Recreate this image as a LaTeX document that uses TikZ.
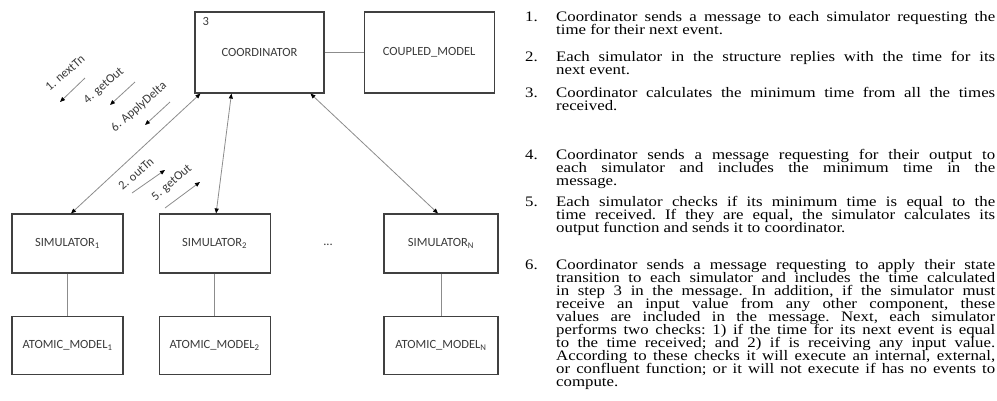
\documentclass[tikz,border=0pt]{standalone}
\usepackage{fontspec}
\setmainfont{Carlito}
\newfontfamily\listfont[FakeStretch=1.16]{Liberation Serif}
\newcommand\listsetup{\listfont\fontsize{14.5}{13}\selectfont\frenchspacing\lineskiplimit=-10pt\relax}
\usepackage{tikz}
\usetikzlibrary{positioning}
\usetikzlibrary{calc}
\usetikzlibrary{arrows.meta}
\definecolor{boxgray}{HTML}{404040}
\definecolor{linegray}{HTML}{8C8C8C}
\definecolor{textgray}{HTML}{3A3A3A}

\begin{document}
\begin{tikzpicture}[
    x=1pt, y=-1pt,
    block/.style={
        draw=boxgray, line width=1.1pt, text=textgray,
        font=\fontsize{12.5}{14}\selectfont, inner sep=0pt
    },
    link/.style={draw=linegray, line width=0.8pt},
    msg arrow/.style={
        draw=linegray, line width=0.8pt,
        {Triangle[length=5pt,width=4pt,black]}-{Triangle[length=5pt,width=4pt,black]}
    },
    step arrow/.style={
        draw=linegray, line width=0.8pt,
        -{Triangle[length=5pt,width=4pt,black]}
    },
    msg label/.style={text=textgray, font=\fontsize{12.5}{14}\selectfont, rotate=41, inner sep=0pt},
    num/.style={anchor=base west, inner sep=0pt, font=\listsetup},
    item/.style={
        anchor=base west, inner sep=0pt, text width=439pt, align=justify,
        font=\listsetup
    }
  ]
  \useasboundingbox (0,0) rectangle (997,400);

  % coordinator and the coupled model
  \node[block, minimum width=129pt, minimum height=81pt] (coord) at (259.5,52.5) {COORDINATOR};
  \node[text=textgray, font=\fontsize{12.5}{14}\selectfont, inner sep=0pt, anchor=north west] (coord_num) at ([shift={(8pt,-6pt)}]coord.north west) {3};
  \node[block, minimum width=130pt, minimum height=81pt, right=39pt of coord] (coupled) {COUPLED\_MODEL};

  % simulators
  \node[block, minimum width=111pt, minimum height=59pt] (sim_1) at (67.5,243.5) {SIMULATOR\textsubscript{1}};
  \node[block, minimum width=111pt, minimum height=59pt, right=35pt of sim_1] (sim_2) {SIMULATOR\textsubscript{2}};
  \node[block, minimum width=114pt, minimum height=59pt] (sim_n) at (441,243.5) {SIMULATOR\textsubscript{N}};
  \node[text=textgray, font=\fontsize{12.5}{14}\selectfont] (dots) at (328,245) {...};

  % atomic models
  \node[block, minimum width=111pt, minimum height=58pt, below=42pt of sim_1] (atom_1) {ATOMIC\_MODEL\textsubscript{1}};
  \node[block, minimum width=111pt, minimum height=58pt, below=42pt of sim_2] (atom_2) {ATOMIC\_MODEL\textsubscript{2}};
  \node[block, minimum width=114pt, minimum height=58pt, below=42pt of sim_n] (atom_n) {ATOMIC\_MODEL\textsubscript{N}};

  \draw[link] (coord) -- (coupled);
  \draw[link] (sim_1) -- (atom_1);
  \draw[link] (sim_2) -- (atom_2);
  \draw[link] (sim_n) -- (atom_n);

  \draw[msg arrow] ([xshift=6pt]coord.south west) -- ([xshift=3.5pt]sim_1.north);
  \draw[msg arrow] ([xshift=37pt]coord.south west) -- ([xshift=1.5pt]sim_2.north);
  \draw[msg arrow] ([xshift=116pt]coord.south west) -- ([xshift=-3pt]sim_n.north);

  % messages down
  \coordinate (down_1_s) at (85,78);
  \coordinate (down_1_e) at (60,102);
  \coordinate (down_4_s) at (135,82);
  \coordinate (down_4_e) at (110,105);
  \coordinate (down_6_s) at (170,102);
  \coordinate (down_6_e) at (145,125);
  \draw[step arrow] (down_1_s) -- (down_1_e);
  \draw[step arrow] (down_4_s) -- (down_4_e);
  \draw[step arrow] (down_6_s) -- (down_6_e);
  \node[msg label] (lab_1) at (65,73) {1. nextTn};
  \node[msg label] (lab_4) at (104,86) {4. getOut};
  \node[msg label] (lab_6) at (139,107) {6. ApplyDelta};

  % messages up
  \coordinate (up_2_s) at (132,193);
  \coordinate (up_2_e) at (165,170);
  \coordinate (up_5_s) at (165,208);
  \coordinate (up_5_e) at (200,182);
  \draw[step arrow] (up_2_s) -- (up_2_e);
  \draw[step arrow] (up_5_s) -- (up_5_e);
  \node[msg label] (lab_2) at (136,174) {2. outTn};
  \node[msg label] (lab_5) at (172,183) {5. getOut};

  % steps
  \node[num] (n_1) at (525,21) {1.};
  \node[item] (item_1) at (556,21) {Coordinator sends a message to each simulator requesting the\linebreak time for their next event.};
  \node[num] (n_2) at (525,61) {2.};
  \node[item] (item_2) at (556,61) {Each simulator in the structure replies with the time for its\linebreak next event.};
  \node[num] (n_3) at (525,97) {3.};
  \node[item] (item_3) at (556,97) {Coordinator calculates the minimum time from all the times\linebreak received.};
  \node[num] (n_4) at (525,159) {4.};
  \node[item] (item_4) at (556,159) {Coordinator sends a message requesting for their output to\linebreak each simulator and includes the minimum time in the\linebreak message.};
  \node[num] (n_5) at (525,206) {5.};
  \node[item] (item_5) at (556,206) {Each simulator checks if its minimum time is equal to the\linebreak time received. If they are equal, the simulator calculates its\linebreak output function and sends it to coordinator.};
  \node[num] (n_6) at (525,269) {6.};
  \node[item] (item_6) at (556,269) {Coordinator sends a message requesting to apply their state\linebreak transition to each simulator and includes the time calculated\linebreak in step 3 in the message. In addition, if the simulator must\linebreak receive an input value from any other component, these\linebreak values are included in the message. Next, each simulator\linebreak performs two checks: 1) if the time for its next event is equal\linebreak to the time received; and 2) if is receiving any input value.\linebreak According to these checks it will execute an internal, external,\linebreak or confluent function; or it will not execute if has no events to\linebreak compute.};
\end{tikzpicture}
\end{document}
